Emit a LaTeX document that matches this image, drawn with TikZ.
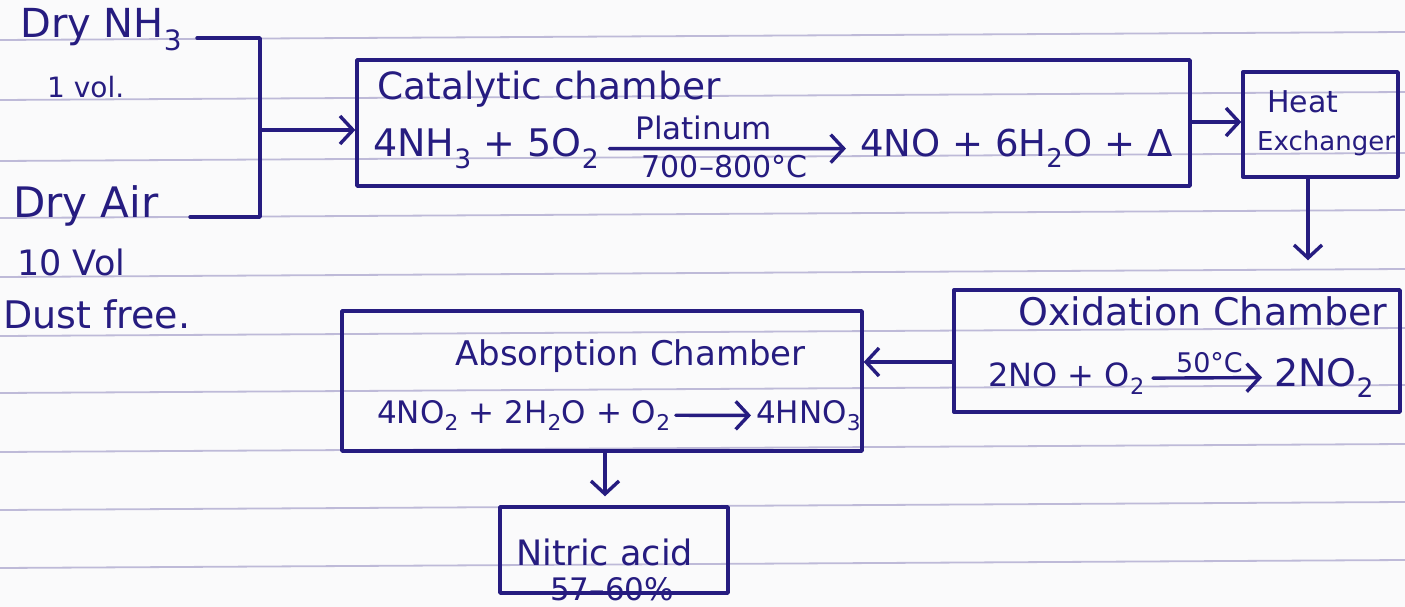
\documentclass[tikz,border=0pt]{standalone}
\usepackage{fontspec}
\setmainfont{DejaVu Sans}
\usetikzlibrary{arrows.meta}
\definecolor{ink}{RGB}{38,28,128}
\definecolor{ruling}{RGB}{190,186,216}
\definecolor{paper}{RGB}{250,250,251}
\newcommand{\fs}[1]{\fontsize{#1}{#1}\selectfont}
\begin{document}
\begin{tikzpicture}[x=1pt,y=-1pt,
  inkline/.style={draw=ink, line width=3.4pt, line cap=round, line join=round},
  box/.style={draw=ink, line width=3.4pt, inner sep=0pt, line join=round},
  flow/.style={inkline, -{Straight Barb[length=13pt,width=28pt]}},
  lbl/.style={text=ink, inner sep=0pt},
  ]
\useasboundingbox (0,0) rectangle (1405,607);
\fill[paper] (0,0) rectangle (1405,607);
% ruled paper
\foreach \yy in {40,100,161,218,277,336,393,452,510,568}
  \draw[ruling, line width=1.8pt] (0,\yy) -- (1405,\yy-8);

% ---- inputs ----
\node[lbl, anchor=base west, font=\fs{40}] (nh3) at (20,38) {Dry NH\textsubscript{3}};
\node[lbl, anchor=base west, font=\fs{28}] (vol1) at (47,98) {1 vol.};
\node[lbl, anchor=base west, font=\fs{42}] (air) at (13,217) {Dry Air};
\node[lbl, anchor=base west, font=\fs{35}] (vol10) at (17,275) {10 Vol};
\node[lbl, anchor=base west, font=\fs{38}] (dust) at (3,328) {Dust free.};
\coordinate (a1) at (197,38);
\coordinate (j1) at (260,38);
\coordinate (j2) at (260,217);
\coordinate (a2) at (190,217);
\coordinate (jm) at (260,130);

% ---- boxes ----
\node[box, minimum width=833pt, minimum height=126pt] (cat) at (773.5,123) {};
\node[box, minimum width=155pt, minimum height=105pt] (hx) at (1320.5,124.5) {};
\node[box, minimum width=446pt, minimum height=122pt] (ox) at (1177,351) {};
\node[box, minimum width=520pt, minimum height=140pt] (abs) at (602,381) {};
\node[box, minimum width=228pt, minimum height=86pt] (nit) at (614,550) {};

% ---- catalytic chamber ----
\node[lbl, anchor=base west, font=\fs{37.5}] (catt) at (377,100) {Catalytic chamber};
\node[lbl, anchor=base west, font=\fs{38}] (r1) at (373,157) {4NH\textsubscript{3} + 5O\textsubscript{2}};
\node[lbl, anchor=base west, font=\fs{37}] (p1) at (860,157) {4NO + 6H\textsubscript{2}O + Δ};
\draw[flow, shorten <=10pt, shorten >=14pt] (r1.east) -- (p1.west)
  node[pos=0.4, above=7pt, lbl, font=\fs{31}] (plat) {Platinum}
  node[pos=0.48, below=5pt, lbl, font=\fs{30}] (temp1) {700–800°C};

% ---- heat exchanger ----
\node[lbl, anchor=base west, font=\fs{30}] (heat) at (1267,113) {Heat};
\node[lbl, anchor=base west, font=\fs{26}] (exch) at (1257,150) {Exchanger};

% ---- oxidation chamber ----
\node[lbl, anchor=base west, font=\fs{38}] (oxt) at (1018,325) {Oxidation Chamber};
\node[lbl, anchor=base west, font=\fs{32}] (r2) at (988,386) {2NO + O\textsubscript{2}};
\node[lbl, anchor=base west, font=\fs{38}] (p2) at (1274,386) {2NO\textsubscript{2}};
\draw[flow, shorten <=8pt, shorten >=12pt] (r2.east) -- (p2.west)
  node[midway, above=3pt, lbl, font=\fs{27}] (temp2) {50°C};

% ---- absorption chamber ----
\node[lbl, anchor=base west, font=\fs{34}] (abst) at (455,365) {Absorption Chamber};
\node[lbl, anchor=base west, font=\fs{31}] (r3) at (377,423) {4NO\textsubscript{2} + 2H\textsubscript{2}O + O\textsubscript{2}};
\node[lbl, anchor=base west, font=\fs{31}] (p3) at (756,423) {4HNO\textsubscript{3}};
\draw[flow, shorten <=5pt, shorten >=5pt] (r3.east) -- (p3.west);

% ---- nitric acid ----
\node[lbl, anchor=base west, font=\fs{35}] (nat) at (516,565) {Nitric acid};
\node[lbl, anchor=base west, font=\fs{31}] (pct) at (550,600) {57–60\%};

% ---- connectors ----
\draw[inkline] (a1) -- (j1) -- (j2) -- (a2);
\draw[flow] (jm) -- (jm -| cat.west);
\draw[flow] (cat.east |- 0,122) -- (hx.west |- 0,122);
\draw[flow, shorten >=28pt] (hx.south -| 1308,0) -- (ox.north -| 1308,0);
\draw[flow] (ox.west |- 0,362) -- (abs.east |- 0,362);
\draw[flow, shorten >=9pt] (abs.south -| 605,0) -- (nit.north -| 605,0);
\end{tikzpicture}
\end{document}
